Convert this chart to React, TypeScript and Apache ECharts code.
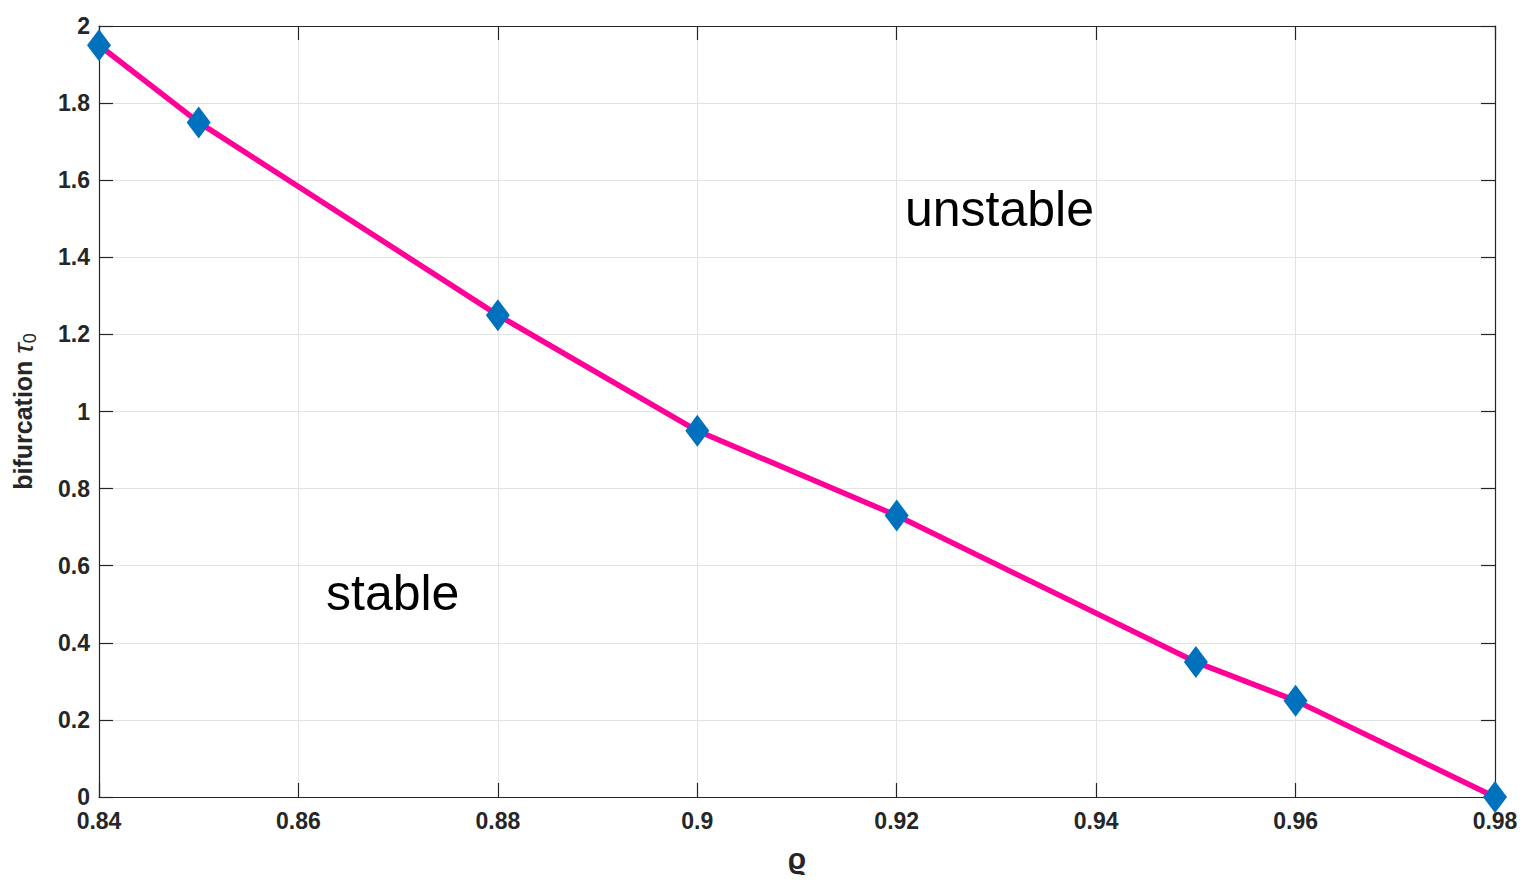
import React, { useEffect, useRef } from "react";
import * as echarts from "echarts";

const rhoValues = [0.84, 0.85, 0.88, 0.9, 0.92, 0.95, 0.96, 0.98];
const tauValues = [1.95, 1.75, 1.25, 0.95, 0.73, 0.35, 0.25, 0.0];
const regionLabels = ["unstable", "stable"];

const FONT = "'Liberation Sans', Arial, Helvetica, sans-serif";
const AXIS_COLOR = "#262626";
const GRID_COLOR = "#e3e3e3";

const fmt = (v: number) => String(+v.toFixed(2));

export default function App() {
  const ref = useRef<HTMLDivElement>(null);
  useEffect(() => {
    if (!ref.current) return;
    const chart = echarts.init(ref.current, undefined, { renderer: "svg" });
    const grid = { left: 99, right: 43, top: 26, bottom: 99 };
    const commonAxis = {
      axisLine: { show: true, onZero: false, lineStyle: { color: AXIS_COLOR, width: 1.2 } },
      axisTick: { show: true, inside: true, length: 14, lineStyle: { color: AXIS_COLOR, width: 1.2 } },
    };
    chart.setOption({
      animation: false,
      backgroundColor: "#ffffff",
      grid,
      xAxis: [
        {
          type: "value",
          min: 0.84,
          max: 0.98,
          interval: 0.02,
          position: "bottom",
          ...commonAxis,
          axisLabel: {
            formatter: fmt,
            fontFamily: FONT,
            fontSize: 23,
            fontWeight: "bold",
            color: AXIS_COLOR,
            margin: 12,
          },
          splitLine: { show: true, lineStyle: { color: GRID_COLOR, width: 1 } },
          name: "ϱ",
          nameLocation: "middle",
          nameGap: 46,
          nameTextStyle: { fontFamily: FONT, fontSize: 30, fontWeight: "bold", color: AXIS_COLOR },
        },
        {
          type: "value",
          min: 0.84,
          max: 0.98,
          interval: 0.02,
          position: "top",
          ...commonAxis,
          axisLabel: { show: false },
          splitLine: { show: false },
        },
      ],
      yAxis: [
        {
          type: "value",
          min: 0,
          max: 2,
          interval: 0.2,
          position: "left",
          ...commonAxis,
          axisLabel: {
            formatter: fmt,
            fontFamily: FONT,
            fontSize: 23,
            fontWeight: "bold",
            color: AXIS_COLOR,
            margin: 9,
          },
          splitLine: { show: true, lineStyle: { color: GRID_COLOR, width: 1 } },
          name: "{a|bifurcation }{t|τ}{s|0}",
          nameLocation: "middle",
          nameRotate: 90,
          nameGap: 60,
          nameTextStyle: {
            rich: {
              a: { fontFamily: FONT, fontSize: 25, fontWeight: "bold", color: AXIS_COLOR, lineHeight: 32, verticalAlign: "middle" },
              t: { fontFamily: FONT, fontSize: 28, fontStyle: "italic", color: AXIS_COLOR, lineHeight: 32, verticalAlign: "middle" },
              s: { fontFamily: FONT, fontSize: 18, color: AXIS_COLOR, lineHeight: 32, verticalAlign: "bottom" },
            },
          },
        },
        {
          type: "value",
          min: 0,
          max: 2,
          interval: 0.2,
          position: "right",
          ...commonAxis,
          axisLabel: { show: false },
          splitLine: { show: false },
        },
      ],
      series: [
        {
          type: "line",
          xAxisIndex: 0,
          yAxisIndex: 0,
          data: rhoValues.map((x, i) => [x, tauValues[i]]),
          clip: false,
          lineStyle: { color: "#ff0099", width: 5.5 },
          symbol: "diamond",
          symbolSize: [24, 32],
          itemStyle: { color: "#0072bd", borderWidth: 0 },
          z: 3,
        },
      ],
      graphic: [
        {
          type: "text",
          x: 905,
          y: 209,
          style: {
            text: regionLabels[0],
            fontFamily: FONT,
            fontSize: 50,
            fill: "#000000",
            verticalAlign: "middle",
            align: "left",
          },
        },
        {
          type: "text",
          x: 326,
          y: 593,
          style: {
            text: regionLabels[1],
            fontFamily: FONT,
            fontSize: 50,
            fill: "#000000",
            verticalAlign: "middle",
            align: "left",
          },
        },
      ],
    });
    return () => chart.dispose();
  }, []);
  return (
    <div
      ref={ref}
      style={{ position: "fixed", left: 0, top: 0, width: 1538, height: 896, background: "#fff" }}
    />
  );
}
